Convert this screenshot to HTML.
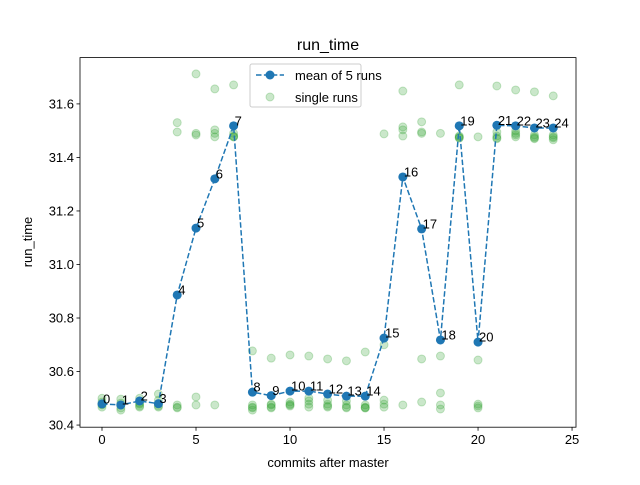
<!DOCTYPE html>
<html><head><meta charset="utf-8"><style>
body{margin:0;background:#fff}
svg{font-family:"Liberation Sans","DejaVu Sans",sans-serif}
</style></head><body>
<svg id="chart" width="640" height="480" xmlns="http://www.w3.org/2000/svg">
<rect width="640" height="480" fill="#fff"/>
<g id="plot"></g>
</svg>
<script>
const commits = [0,1,2,3,4,5,6,7,8,9,10,11,12,13,14,15,16,17,18,19,20,21,22,23,24];
const meanRuns = [30.479,30.475,30.49,30.48,30.886,31.136,31.32,31.518,30.523,30.51,30.527,30.527,30.516,30.508,30.508,30.725,31.327,31.133,30.718,31.518,30.71,31.52,31.518,31.51,31.51];
const singleRuns = [
 [30.50,30.486,30.475,30.467,30.478],
 [30.497,30.482,30.475,30.464,30.456],
 [30.50,30.482,30.478,30.467,30.471],
 [30.516,30.493,30.478,30.471,30.467],
 [31.53,31.495,30.475,30.467,30.464],
 [31.712,31.49,31.484,30.505,30.475],
 [31.656,31.503,31.49,31.477,30.475],
 [31.671,31.49,31.48,31.477,31.477],
 [30.677,30.475,30.467,30.456,30.464],
 [30.65,30.478,30.475,30.467,30.464],
 [30.662,30.486,30.478,30.475,30.471],
 [30.658,30.501,30.49,30.478,30.467],
 [30.647,30.493,30.478,30.471,30.467],
 [30.64,30.49,30.475,30.467,30.464],
 [30.673,30.475,30.467,30.464,30.464],
 [31.488,30.70,30.493,30.478,30.467],
 [31.648,31.514,31.503,31.48,30.475],
 [31.533,31.495,31.49,30.647,30.486],
 [31.49,30.658,30.52,30.475,30.46],
 [31.671,31.48,31.477,31.473,31.473],
 [31.477,30.643,30.478,30.471,30.464],
 [31.667,31.495,31.48,31.473,31.47],
 [31.652,31.499,31.49,31.484,31.477],
 [31.645,31.484,31.477,31.473,31.47],
 [31.63,31.484,31.477,31.473,31.466]
];
const xTicks = [0,5,10,15,20,25];
const yTicks = [30.4,30.6,30.8,31.0,31.2,31.4,31.6];

const L=80,R=576,T=57.6,B=427.2;
const xMin=-1.17,xMax=25.21,yMin=30.392,yMax=31.773;
const sx=v=>L+(v-xMin)/(xMax-xMin)*(R-L);
const sy=v=>B-(v-yMin)/(yMax-yMin)*(B-T);
const NS="http://www.w3.org/2000/svg";
const g=document.getElementById('plot');
function mk(tag,attrs,parent){const e=document.createElementNS(NS,tag);for(const k in attrs)e.setAttribute(k,attrs[k]);(parent||g).appendChild(e);return e;}

// singles
singleRuns.forEach((arr,i)=>arr.forEach(v=>{
  const c=mk('circle',{cx:sx(commits[i]),cy:sy(v),r:4,fill:'#2ca02c','fill-opacity':0.25,stroke:'#2ca02c','stroke-opacity':0.25});
  
  
}));
// mean line
const pl=mk('polyline',{points:meanRuns.map((v,i)=>sx(commits[i])+','+sy(v)).join(' '),fill:'none',stroke:'#1f77b4','stroke-width':1.5,'stroke-dasharray':'5.5,2.4'});


meanRuns.forEach((v,i)=>{
  const c=mk('circle',{cx:sx(commits[i]),cy:sy(v),r:4.5,fill:'#1f77b4'});
  
  
  const t=mk('text',{x:sx(commits[i])+1,y:sy(v)-0.5,'font-size':13,fill:'#000'});
  t.textContent=String(commits[i]);
  
  
});
// axes frame
const fr=mk('rect',{x:L,y:T,width:R-L,height:B-T,fill:'none',stroke:'#000','stroke-width':0.8});


xTicks.forEach(v=>{
  mk('line',{x1:sx(v),x2:sx(v),y1:B,y2:B+3.5,stroke:'#000','stroke-width':0.8});
  const t=mk('text',{x:sx(v),y:B+17,'font-size':13,'text-anchor':'middle'});
  t.textContent=String(v);
  
  
});
yTicks.forEach(v=>{
  mk('line',{x1:L-3.5,x2:L,y1:sy(v),y2:sy(v),stroke:'#000','stroke-width':0.8});
  const t=mk('text',{x:L-6,y:sy(v)+4.5,'font-size':13,'text-anchor':'end'});
  t.textContent=v.toFixed(1);
  
  
});
</script>
<svg style="position:absolute;left:0;top:0" width="640" height="480" xmlns="http://www.w3.org/2000/svg" font-family="Liberation Sans, DejaVu Sans, sans-serif">
<text x="328" y="50" font-size="16" text-anchor="middle">run_time</text>
<text x="328" y="467" font-size="13" text-anchor="middle">commits after master</text>
<text x="32" y="242" font-size="13" text-anchor="middle" transform="rotate(-90 32 242)">run_time</text>
<g>
<rect x="250" y="64" width="111" height="43" rx="2" fill="#fff" fill-opacity="0.8" stroke="#ccc"/>
<line x1="256" x2="284" y1="75" y2="75" stroke="#1f77b4" stroke-width="1.5" stroke-dasharray="5.5,2.4"/>
<circle cx="270" cy="75" r="4.5" fill="#1f77b4"/>
<text x="295" y="80" font-size="13">mean of 5 runs</text>
<circle cx="270" cy="97" r="4" fill="#2ca02c" fill-opacity="0.25" stroke="#2ca02c" stroke-opacity="0.25"/>
<text x="295" y="102" font-size="13">single runs</text>
</g>
</svg>
</body></html>
